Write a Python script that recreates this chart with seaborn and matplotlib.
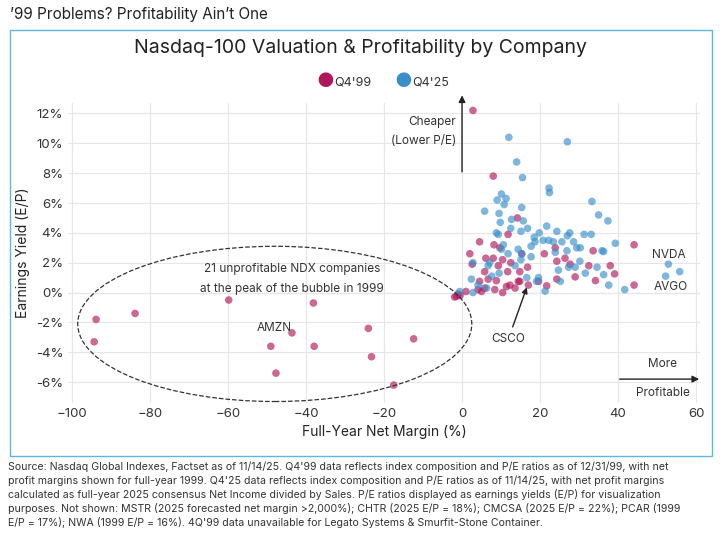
import seaborn as sns
import matplotlib.pyplot as plt
import pandas as pd
from matplotlib.patches import Ellipse, Rectangle

q99_margin = [2.8, 8, 14.2, 4.5, 2, 2.6, 8.2, 11.8, 9.7, 6.1, 8, 10.4, 12.5, 5.8, 9.3, 11.7, 14.8, 16.8,
              15.3, 4.5, 6.7, 8.8, 12.3, 13.6, 14.8, 5, 1, 10.4, 8.4, 17, 21.7, 24.3, 29, 34.2, 39.1, 44.1,
              44.1, 33.6, 38, 32.5, 27.7, 26.4, 24.3, 21.1, 23.9, 19.6, 14.4, -1.9, -1, 4.1, 5.8, 11.4,
              -94.3, -93.8, -83.8, -59.8, -38.1, -49, -43.6, -47.7, -37.9, -24, -23.2, -12.4, -17.5, -0.5, -1.4]
q99_yield = [12.2, 7.8, 5, 3.4, 2.6, 1.9, 3.2, 3.9, 3, 2.3, 2.3, 2.2, 2, 1.4, 1.8, 1.4, 1.4, 1.7,
             2.6, 0.75, 0.9, 0.8, 0.5, 0.3, 0.75, 0.07, 0.07, 0, 0.2, 0.5, 0.45, 0.9, 1.05, 0.8, 1.25, 0.5,
             3.2, 2.8, 1.8, 1.8, 1.9, 2.3, 2.1, 2.6, 3, 0.75, 0.75, -0.3, -0.1, 0.2, 0.3, 0.4,
             -3.3, -1.8, -1.4, -0.5, -0.7, -3.6, -2.7, -5.4, -3.6, -2.4, -4.3, -3.1, -6.2, -0.2, -0.25]
q25_margin = [12, 27, 14, 15.5, 22.3, 22.4, 10.1, 9, 11.3, 10.8, 15.3, 5.8, 9.5, 33.3, 35, 37.4, 9.8, 12.7,
              15.7, 12.5, 16.8, 15.1, 8.8, 9.3, 21.7, 19.8, 18.5, 18.7, 20.8, 22.2, 24.3, 27, 27.6, 31.3,
              33.1, 28.6, 29.4, 30.3, 25.6, 23.4, 23.9, 26.9, 39.3, 35.9, 36.3, 30.2, 34.6, 36.3, 37.6, 41.7,
              31.6, 29, 27.3, 24.7, 25.2, 19.6, 19.1, 21.3, 10.6, 10.1, 11.8, 14.4, 17.7, 17.7, 15.3, 7.1,
              2.8, 6.7, 9.5, 7.6, 2.4, 4.1, 6.3, 2.8, -0.6, 16.6, 52.9, 52.2, 55.8, 15.1, 13.6]
q25_yield = [10.4, 10.1, 8.75, 7.7, 7, 6.7, 6.6, 6.2, 6.3, 5.9, 5.7, 5.45, 5.3, 6.1, 5.2, 4.8, 4.7, 4.9,
             4.8, 4.3, 4.3, 4.1, 4, 3.9, 4.45, 4, 3.7, 3.4, 3.5, 3.5, 4.1, 3.8, 4, 3.9,
             3.9, 3.4, 3, 3, 3.4, 3.4, 2.7, 2.8, 3.3, 2.8, 2.75, 2.1, 1.7, 1.2, 0.5, 0.2,
             1.3, 1.7, 1.7, 1.5, 0.75, 1, 0.75, 0.1, 3.2, 2.9, 2.6, 2.9, 3.1, 2.4, 2.6, 2,
             2, 1.8, 1.3, 1.1, 0.9, 0.5, 0.3, 0, 0.07, 1, 1.9, 1.1, 1.4, 2.2, 1.8]

df = pd.concat([
    pd.DataFrame({"margin": q99_margin, "yield": q99_yield, "period": "Q4'99"}),
    pd.DataFrame({"margin": q25_margin, "yield": q25_yield, "period": "Q4'25"}),
])

sns.set_style("whitegrid")
plt.rcParams["font.family"] = ["Inter", "DejaVu Sans"]

fig = plt.figure(figsize=(7.2, 5.43), dpi=100)
ax = fig.add_axes([68 / 720, 1 - 403 / 543, 632 / 720, 300 / 543])
palette = {"Q4'99": "#B0175A", "Q4'25": "#3A8FCB"}
sns.scatterplot(data=df, x="margin", y="yield", hue="period", palette=palette, s=30,
                alpha=0.65, edgecolor="none", ax=ax, legend=False)

ax.set_xlim(-101, 61)
ax.set_ylim(-7.4, 12.7)
ax.set_xticks(range(-100, 61, 20))
ax.set_yticks(range(-6, 13, 2))
ax.set_yticklabels([f"{v}%" for v in range(-6, 13, 2)])
ax.tick_params(labelsize=9.5, colors="#333333", length=0)
ax.grid(color="#e6e6e6", lw=0.8)
for s in ax.spines.values():
    s.set_visible(False)
ax.axhline(0, color="#cccccc", lw=0.8, zorder=0)
ax.set_xlabel("Full-Year Net Margin (%)", fontsize=10, color="#222222")
ax.set_ylabel("Earnings Yield (E/P)", fontsize=10, color="#222222")

ax.add_patch(Ellipse((-48, -2.1), 101, 10.4, fill=False, ls="--", lw=0.9, color="#333333"))
ax.text(-43.6, 0.9, "21 unprofitable NDX companies\nat the peak of the bubble in 1999",
        ha="center", va="center", fontsize=8.5, color="#333333", linespacing=1.9)
ax.text(-48.2, -2.4, "AMZN", ha="center", va="center", fontsize=8.5, color="#333333")
ax.text(53, 2.5, "NVDA", ha="center", va="center", fontsize=8.5, color="#333333")
ax.text(53.6, 0.4, "AVGO", ha="center", va="center", fontsize=8.5, color="#333333")
ax.text(-1.5, 10.8, "Cheaper\n(Lower P/E)", ha="right", va="center", fontsize=8.5,
        color="#333333", linespacing=1.8)
ax.annotate("", xy=(0, 13.4), xytext=(0, 7.9), annotation_clip=False,
            arrowprops=dict(arrowstyle="-|>", color="#222222", lw=1))
ax.text(51.5, -5.2, "More", ha="center", va="bottom", fontsize=8.5, color="#333333")
ax.text(51.5, -6.3, "Profitable", ha="center", va="top", fontsize=8.5, color="#333333")
ax.annotate("", xy=(61.5, -5.8), xytext=(39.7, -5.8), annotation_clip=False,
            arrowprops=dict(arrowstyle="-|>", color="#222222", lw=1))
ax.annotate("CSCO", xy=(16.6, 0.35), xytext=(11.9, -3.1), ha="center", va="center",
            fontsize=8.5, color="#333333",
            arrowprops=dict(arrowstyle="-|>", color="#222222", lw=1, shrinkB=0))

fig.patches.append(Rectangle((10 / 720, 1 - 456 / 543), 702 / 720, 426 / 543,
                             transform=fig.transFigure, fill=False, ec="#5BB8D6", lw=1))
fig.text(10 / 720, 1 - 15 / 543, "\u201999 Problems? Profitability Ain\u2019t One",
         fontsize=11, va="center", color="#222222")
fig.text(0.5, 1 - 48 / 543, "Nasdaq-100 Valuation & Profitability by Company",
         fontsize=14, ha="center", va="center", color="#222222")
fig.text(316 / 720, 1 - 82 / 543, "\u25cf", color="#B0175A", fontsize=14, va="center")
fig.text(334 / 720, 1 - 82 / 543, "Q4'99", color="#333333", fontsize=9, va="center")
fig.text(394 / 720, 1 - 82 / 543, "\u25cf", color="#3A8FCB", fontsize=14, va="center")
fig.text(412 / 720, 1 - 82 / 543, "Q4'25", color="#333333", fontsize=9, va="center")

source = ("Source: Nasdaq Global Indexes, Factset as of 11/14/25. Q4'99 data reflects index composition and P/E ratios as of 12/31/99, with net\n"
          "profit margins shown for full-year 1999. Q4'25 data reflects index composition and P/E ratios as of 11/14/25, with net profit margins\n"
          "calculated as full-year 2025 consensus Net Income divided by Sales. P/E ratios displayed as earnings yields (E/P) for visualization\n"
          "purposes. Not shown: MSTR (2025 forecasted net margin >2,000%); CHTR (2025 E/P = 18%); CMCSA (2025 E/P = 22%); PCAR (1999\n"
          "E/P = 17%); NWA (1999 E/P = 16%). 4Q'99 data unavailable for Legato Systems & Smurfit-Stone Container.")
fig.text(8 / 720, 1 - 462 / 543, source, fontsize=7.6, va="top", color="#333333", linespacing=1.35)

fig.savefig("out.png", dpi=100)
